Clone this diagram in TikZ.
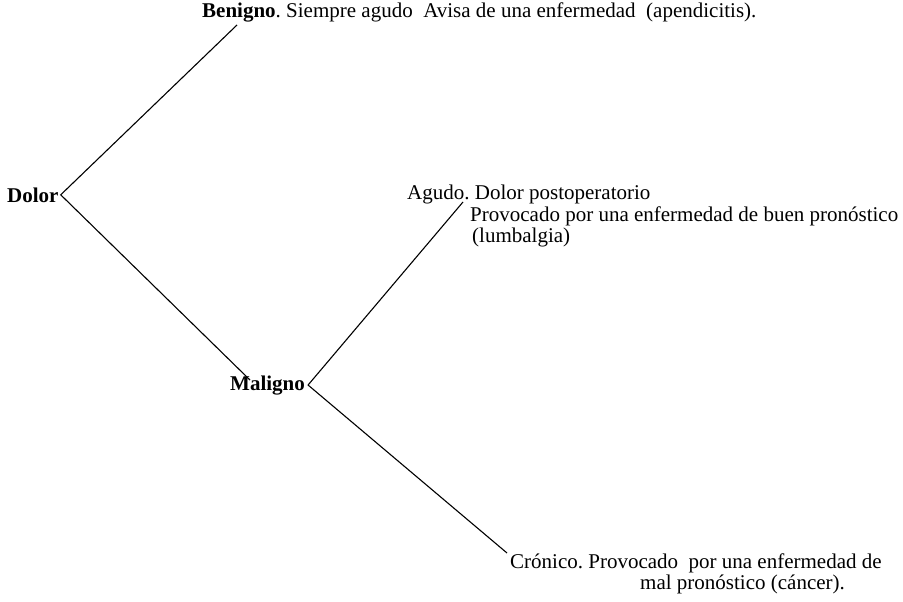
\documentclass[tikz,border=0pt]{standalone}
\usepackage{fontspec}
\setmainfont{Liberation Serif}
\frenchspacing

\begin{document}
\begin{tikzpicture}[x=1pt,y=-1pt,font=\fontsize{21}{22}\selectfont,
  txt/.style={inner sep=0pt,anchor=base west},
  rama/.style={line width=1.1pt}]
\useasboundingbox (0,0) rectangle (903,602);

\node[txt] (benigno) at (202,18) {\textbf{Benigno}. Siempre agudo\ \ Avisa de una enfermedad\ \ (apendicitis).};
\node[txt] (dolor) at (7,202) {\textbf{Dolor}};
\node[txt] (maligno) at (230,390) {\textbf{Maligno}};
\node[txt] (agudo) at (407,199) {Agudo. Dolor postoperatorio};
\node[txt] (agudob) at (470,221) {Provocado por una enfermedad de buen pronóstico};
\node[txt] (agudoc) at (472,242) {(lumbalgia)};
\node[txt] (cronico) at (510,568) {Crónico. Provocado\ \ por una enfermedad de};
\node[txt] (cronicob) at (640,589) {mal pronóstico (cáncer).};

\coordinate (dolor-v) at ([xshift=2pt]dolor.east);
\coordinate (maligno-v) at ([xshift=3pt]maligno.east);
\coordinate (benigno-e) at (237,25);
\coordinate (maligno-e) at (250,380);
\coordinate (agudo-e) at (463,202);
\coordinate (cronico-e) at (507,553);

\draw[rama] (benigno-e) -- (dolor-v) -- (maligno-e);
\draw[rama] (agudo-e) -- (maligno-v) -- (cronico-e);

\end{tikzpicture}
\end{document}
